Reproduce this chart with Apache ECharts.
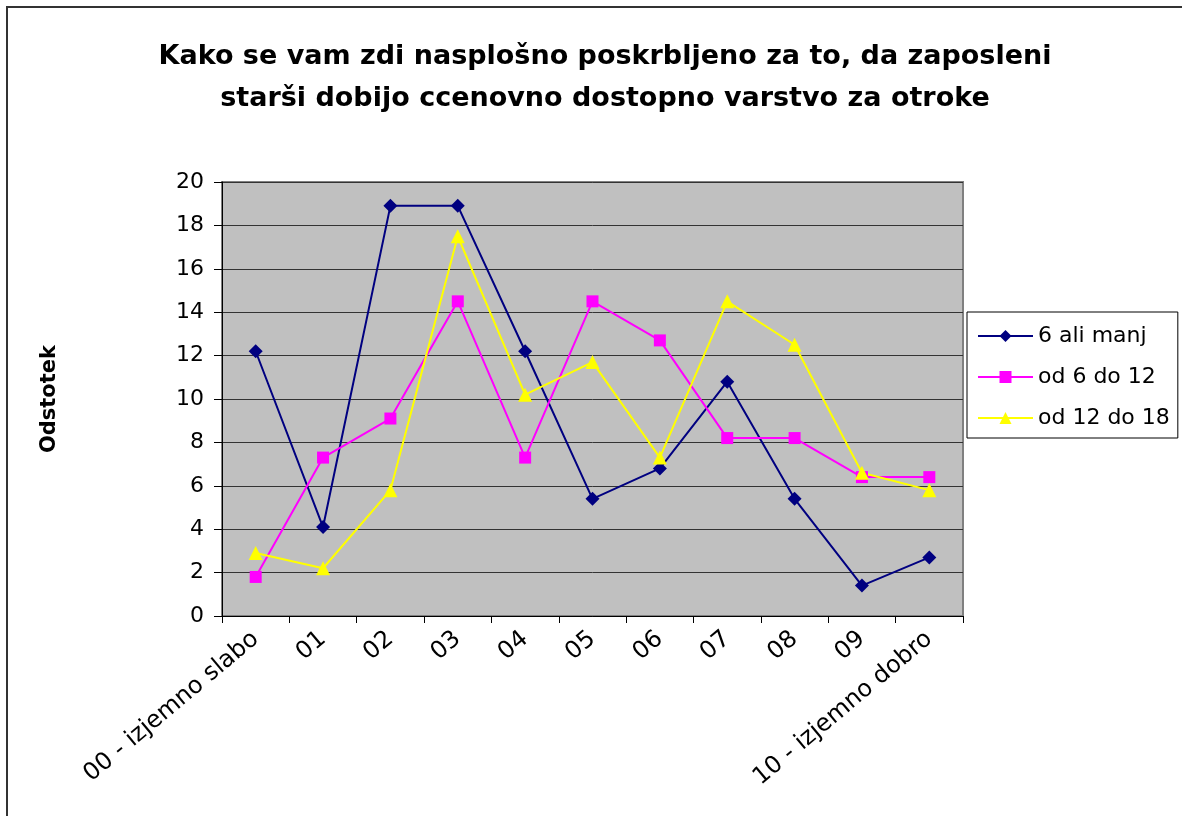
<!DOCTYPE html>
<html>
<head>
<meta charset="utf-8">
<script src="https://cdn.jsdelivr.net/npm/echarts@6/dist/echarts.min.js"></script>
<style>
  html, body { margin: 0; padding: 0; background: #fff; }
  #chart { width: 1182px; height: 816px; }
</style>
</head>
<body>
<div id="chart"></div>
<script>
const categories = ['00 - izjemno slabo', '01', '02', '03', '04', '05', '06', '07', '08', '09', '10 - izjemno dobro']
const seriesNames = ['6 ali manj', 'od 6 do 12', 'od 12 do 18']
const upTo6 = [12.2, 4.1, 18.9, 18.9, 12.2, 5.4, 6.8, 10.8, 5.4, 1.4, 2.7]
const from6to12 = [1.8, 7.3, 9.1, 14.5, 7.3, 14.5, 12.7, 8.2, 8.2, 6.4, 6.4]
const from12to18 = [2.9, 2.2, 5.8, 17.5, 10.2, 11.7, 7.3, 14.5, 12.5, 6.6, 5.8]
const yTicks = { min: 0, max: 20, interval: 2 }

const font = 'DejaVu Sans'
const chart = echarts.init(document.getElementById('chart'))

const lineSeries = (name, data, color, symbol, size) => ({
  name: name,
  type: 'line',
  data: data,
  symbol: symbol,
  symbolSize: size,
  showAllSymbol: true,
  animation: false,
  itemStyle: { color: color },
  lineStyle: { color: color, width: 2 }
})

chart.setOption({
  backgroundColor: '#fff',
  graphic: [{
    type: 'rect',
    shape: { x: 7, y: 7, width: 1400, height: 1000 },
    style: { fill: 'none', stroke: '#333', lineWidth: 2 },
    silent: true
  }],
  title: {
    text: 'Kako se vam zdi nasplošno poskrbljeno za to, da zaposleni\nstarši dobijo ccenovno dostopno varstvo za otroke',
    left: 600,
    top: 31,
    textAlign: 'center',
    textStyle: {
      fontFamily: font,
      fontSize: 27,
      fontWeight: 'bold',
      color: '#000',
      lineHeight: 42
    }
  },
  legend: {
    orient: 'vertical',
    left: 967,
    top: 312,
    data: seriesNames,
    padding: [13, 8, 9, 10],
    itemGap: 19,
    itemWidth: 55,
    itemHeight: 15,
    borderColor: '#000',
    borderWidth: 1,
    textStyle: { fontFamily: font, fontSize: 22, color: '#000', lineHeight: 22 }
  },
  grid: {
    left: 222,
    right: 219,
    top: 182,
    bottom: 200,
    show: true,
    backgroundColor: '#C0C0C0',
    borderColor: '#808080',
    borderWidth: 2
  },
  xAxis: {
    type: 'category',
    data: categories,
    boundaryGap: true,
    axisLine: { lineStyle: { color: '#000', width: 1 } },
    axisTick: { show: true, length: 7, lineStyle: { color: '#000' } },
    axisLabel: {
      interval: 0,
      rotate: 40,
      margin: 20,
      fontFamily: font,
      fontSize: 24,
      color: '#000'
    },
    splitLine: { show: false }
  },
  yAxis: {
    type: 'value',
    min: yTicks.min,
    max: yTicks.max,
    interval: yTicks.interval,
    name: 'Odstotek',
    nameLocation: 'middle',
    nameRotate: 90,
    nameGap: 162,
    nameTextStyle: { fontFamily: font, fontSize: 21, fontWeight: 'bold', color: '#000' },
    axisLine: { show: true, lineStyle: { color: '#000', width: 1 } },
    axisTick: { show: true, length: 8, lineStyle: { color: '#000' } },
    axisLabel: { margin: 18, fontFamily: font, fontSize: 22, color: '#000' },
    splitLine: { show: true, lineStyle: { color: '#333', width: 1 } }
  },
  series: [
    lineSeries(seriesNames[0], upTo6, '#000080', 'diamond', 14),
    lineSeries(seriesNames[1], from6to12, '#FF00FF', 'rect', 12),
    lineSeries(seriesNames[2], from12to18, '#FFFF00', 'triangle', 14)
  ]
})

window.onresize = function () {
  chart.resize()
}
</script>
</body>
</html>
